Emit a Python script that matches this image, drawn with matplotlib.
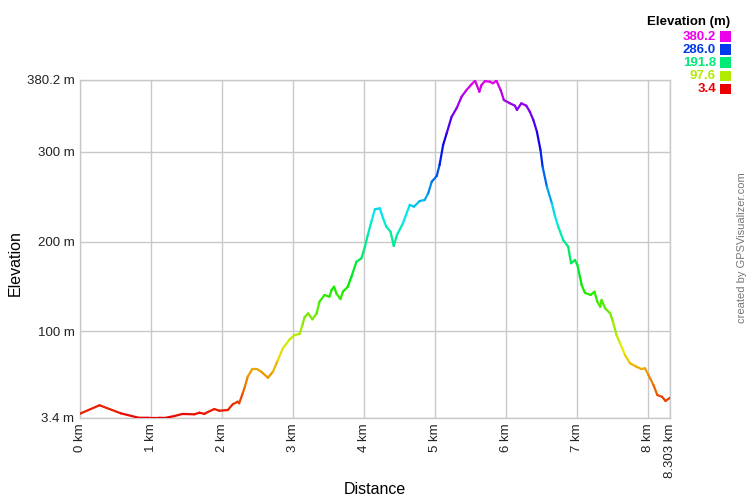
import colorsys
import numpy as np
import matplotlib
matplotlib.use("Agg")
import matplotlib.pyplot as plt
from matplotlib.collections import LineCollection
from matplotlib.patches import Rectangle

plt.rcParams["font.family"] = ["Liberation Sans", "DejaVu Sans"]

# profile (km, m)
dist_km = [0.0, 0.275, 0.575, 0.83, 0.97, 1.115, 1.19, 1.33, 1.44, 1.61, 1.68, 1.75,
           1.80, 1.89, 1.96, 2.08, 2.15, 2.22, 2.24, 2.29, 2.32, 2.36, 2.425, 2.49,
           2.55, 2.645, 2.715, 2.785, 2.855, 2.95, 3.02, 3.09, 3.13, 3.16, 3.21, 3.27,
           3.33, 3.37, 3.44, 3.51, 3.54, 3.575, 3.61, 3.665, 3.70, 3.77, 3.80, 3.82,
           3.89, 3.96, 4.01, 4.05, 4.10, 4.15, 4.22, 4.265, 4.31, 4.37, 4.415, 4.46,
           4.545, 4.64, 4.70, 4.78, 4.85, 4.90, 4.95, 5.02, 5.06, 5.11, 5.16, 5.23,
           5.30, 5.37, 5.44, 5.51, 5.56, 5.62, 5.65, 5.70, 5.77, 5.81, 5.86, 5.92,
           5.965, 6.05, 6.12, 6.15, 6.21, 6.28, 6.33, 6.38, 6.43, 6.48, 6.51, 6.57,
           6.64, 6.68, 6.73, 6.80, 6.87, 6.91, 6.965, 7.0, 7.035, 7.06, 7.105, 7.185,
           7.24, 7.28, 7.32, 7.34, 7.39, 7.46, 7.50, 7.55, 7.60, 7.67, 7.74, 7.83,
           7.90, 7.95, 8.00, 8.07, 8.125, 8.19, 8.24, 8.303]
elev_m = [8.2, 17.6, 8.6, 3.6, 3.7, 3.7, 3.4, 5.6, 7.9, 7.5, 9.3, 8.0,
          10.1, 13.4, 11.5, 12.3, 18.7, 21.6, 19.8, 30.9, 38.3, 49.4, 58.0, 58.0,
          55.0, 48.3, 55.0, 68.0, 81.0, 91.1, 95.9, 97.0, 107.0, 115.7, 120.1, 113.4,
          120.0, 133.0, 140.5, 138.6, 146.0, 149.8, 142.0, 136.0, 144.2, 149.8, 157.0, 160.9,
          177.6, 181.4, 194.4, 207.4, 222.2, 236.0, 237.2, 226.0, 216.7, 211.0, 195.2, 207.4,
          220.5, 240.9, 239.0, 245.3, 246.4, 253.9, 266.8, 273.2, 285.4, 307.7, 320.8, 339.3,
          348.7, 361.6, 369.1, 375.4, 379.4, 367.2, 374.6, 379.0, 378.3, 376.5, 379.4, 369.0,
          357.9, 354.2, 351.6, 346.8, 354.2, 351.6, 344.9, 335.6, 322.6, 302.2, 283.6, 261.3,
          242.8, 229.7, 216.7, 201.8, 194.4, 175.9, 179.5, 174.0, 160.9, 151.7, 143.1, 140.5,
          144.2, 133.0, 127.5, 135.0, 125.7, 120.1, 110.8, 95.9, 86.7, 73.6, 64.4, 60.6,
          58.0, 58.8, 51.3, 40.2, 29.0, 27.1, 22.4, 26.0]

elev_min, elev_max = 3.4, 380.2
y_ticks = [3.4, 100, 200, 300, 380.2]
y_labels = ["3.4 m", "100 m", "200 m", "300 m", "380.2 m"]
x_ticks = [0, 1, 2, 3, 4, 5, 6, 7, 8, 8.303]
x_labels = ["0 km", "1 km", "2 km", "3 km", "4 km", "5 km", "6 km", "7 km", "8 km", "8.303 km"]
legend_vals = [380.2, 286.0, 191.8, 97.6, 3.4]


def elev_color(v):
    frac = (v - elev_min) / (elev_max - elev_min)
    frac = min(max(frac, 0.0), 1.0)
    return colorsys.hsv_to_rgb(frac * 300 / 360, 1.0, 0.92)


fig = plt.figure(figsize=(7.5, 5), dpi=100)
ax = fig.add_axes([80 / 750, 82 / 500, 590 / 750, 338 / 500])

x = np.array(dist_km)
y = np.array(elev_m)
pts = np.column_stack([x, y]).reshape(-1, 1, 2)
segs = np.concatenate([pts[:-1], pts[1:]], axis=1)
cols = [elev_color((a + b) / 2) for a, b in zip(y[:-1], y[1:])]
ax.add_collection(LineCollection(segs, colors=cols, linewidths=1.6, zorder=3,
                                 capstyle="round", joinstyle="round"))

ax.set_xlim(0, 8.303)
ax.set_ylim(elev_min, elev_max)
ax.set_xticks(x_ticks)
ax.set_xticklabels(x_labels, rotation=90, va="top", ha="center")
ax.set_yticks(y_ticks)
ax.set_yticklabels(y_labels)
ax.tick_params(length=0, labelsize=9.5, colors="#222222", pad=4)
ax.grid(True, color="#c8c8c8", linewidth=1.0)
for s in ax.spines.values():
    s.set_color("#c8c8c8")
    s.set_linewidth(1.0)

fig.text(375 / 750, 1 - 489 / 500, "Distance", ha="center", va="center", fontsize=11.5)
fig.text(15 / 750, 1 - 263 / 500, "Elevation", ha="center", va="center",
         rotation=90, fontsize=11.5)

# legend
fig.text(730 / 750, 1 - 22.5 / 500, "Elevation (m)", ha="right", va="center",
         fontsize=9.5, fontweight="bold")
for i, v in enumerate(legend_vals):
    yc = 36.5 + 13.2 * i
    c = elev_color(v)
    fig.text(716 / 750, 1 - yc / 500, f"{v:.1f}", ha="right", va="center",
             fontsize=9.5, fontweight="bold", color=c)
    fig.patches.append(Rectangle((720 / 750, 1 - (yc + 5) / 500), 11 / 750, 10.5 / 500,
                                 transform=fig.transFigure, facecolor=c, edgecolor="none",
                                 linewidth=0, figure=fig))

fig.text(742 / 750, 1 - 248 / 500, "created by GPSVisualizer.com", ha="center",
         va="center", rotation=90, fontsize=8, color="#777777")

fig.savefig("out.png", dpi=100)
